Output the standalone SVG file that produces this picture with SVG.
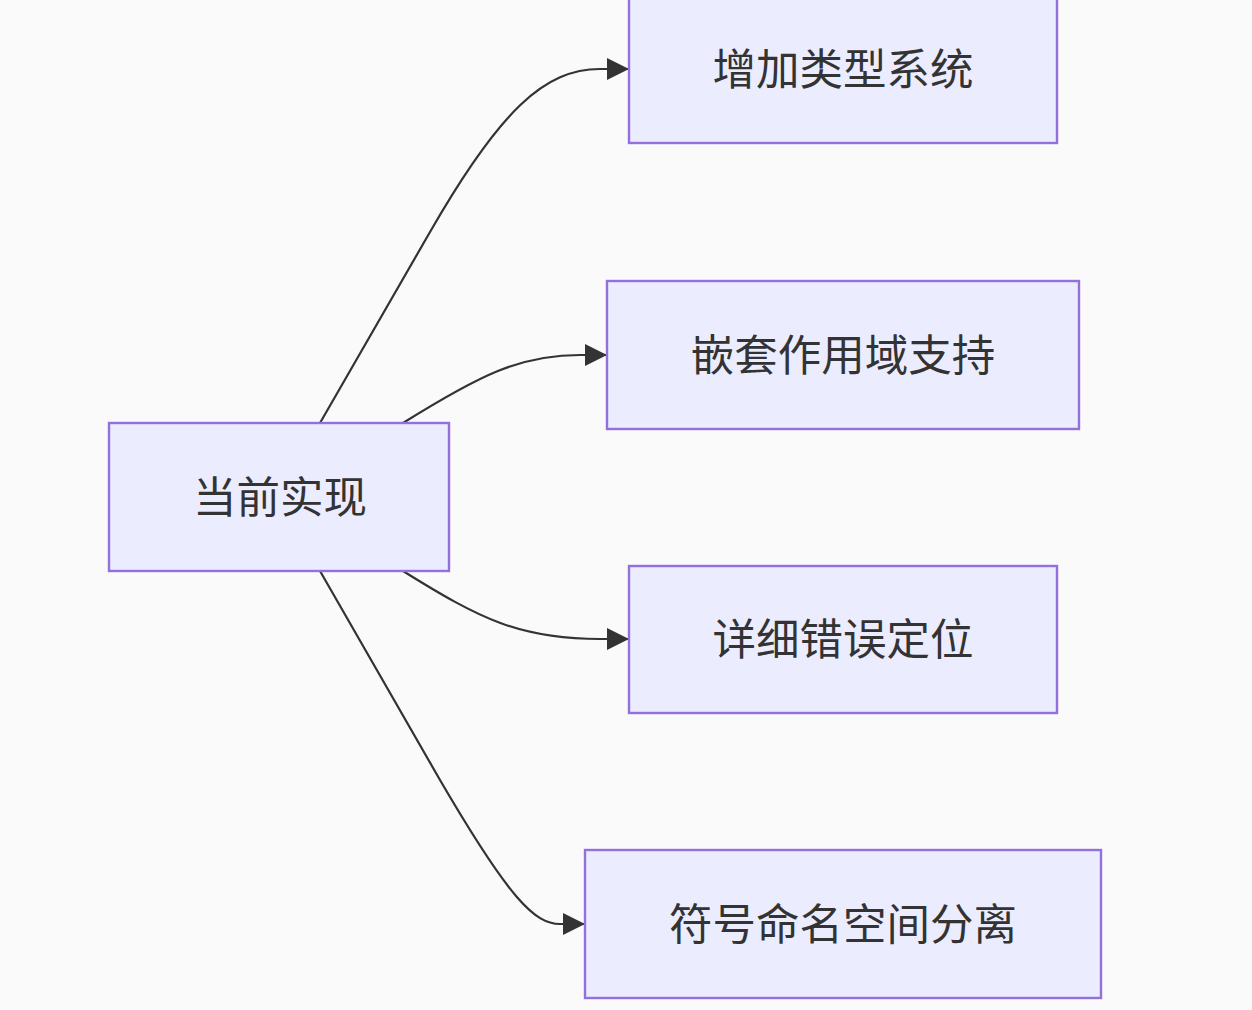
<svg xmlns="http://www.w3.org/2000/svg" width="1252" height="1010" viewBox="0 0 1252 1010">
<style>
.bg{fill:#fafafa}
.node rect{fill:#ECECFF;stroke:#9370DB;stroke-width:2.4}
.node text{font-family:"Noto Sans CJK SC","Noto Sans",sans-serif;font-size:43.5px;fill:#333;text-anchor:middle;dominant-baseline:central}
.edge{fill:none;stroke:#333;stroke-width:2.2}
</style>
<defs>
<marker id="arrow" viewBox="0 0 10 10" refX="10" refY="5" markerUnits="userSpaceOnUse" markerWidth="22" markerHeight="22" orient="auto">
<path d="M0,0 L10,5 L0,10 z" fill="#333"/>
</marker>
</defs>
<rect class="bg" x="0" y="0" width="1252" height="1010"/>
<g id="connectors">
<path class="edge" d="M320,423 L430,232 C500,110 545,69 600,69 L629,69" marker-end="url(#arrow)"/>
<path class="edge" d="M403,423 C480,375 520,355 580,355 L607,355" marker-end="url(#arrow)"/>
<path class="edge" d="M403,571 C480,619 520,639 600,639 L629,639" marker-end="url(#arrow)"/>
<path class="edge" d="M320,571 L440,780 C510,900 535,924 560,924 L585,924" marker-end="url(#arrow)"/>
</g>
<g id="node-current" class="node">
<rect x="109" y="423" width="340" height="148"/>
<text x="280" y="494">当前实现</text>
</g>
<g id="node-types" class="node">
<rect x="629" y="-5" width="428" height="148"/>
<text x="843" y="66">增加类型系统</text>
</g>
<g id="node-scope" class="node">
<rect x="607" y="281" width="472" height="148"/>
<text x="843" y="352">嵌套作用域支持</text>
</g>
<g id="node-errors" class="node">
<rect x="629" y="566" width="428" height="147"/>
<text x="843" y="636">详细错误定位</text>
</g>
<g id="node-namespace" class="node">
<rect x="585" y="850" width="516" height="148"/>
<text x="843" y="921">符号命名空间分离</text>
</g>
</svg>
